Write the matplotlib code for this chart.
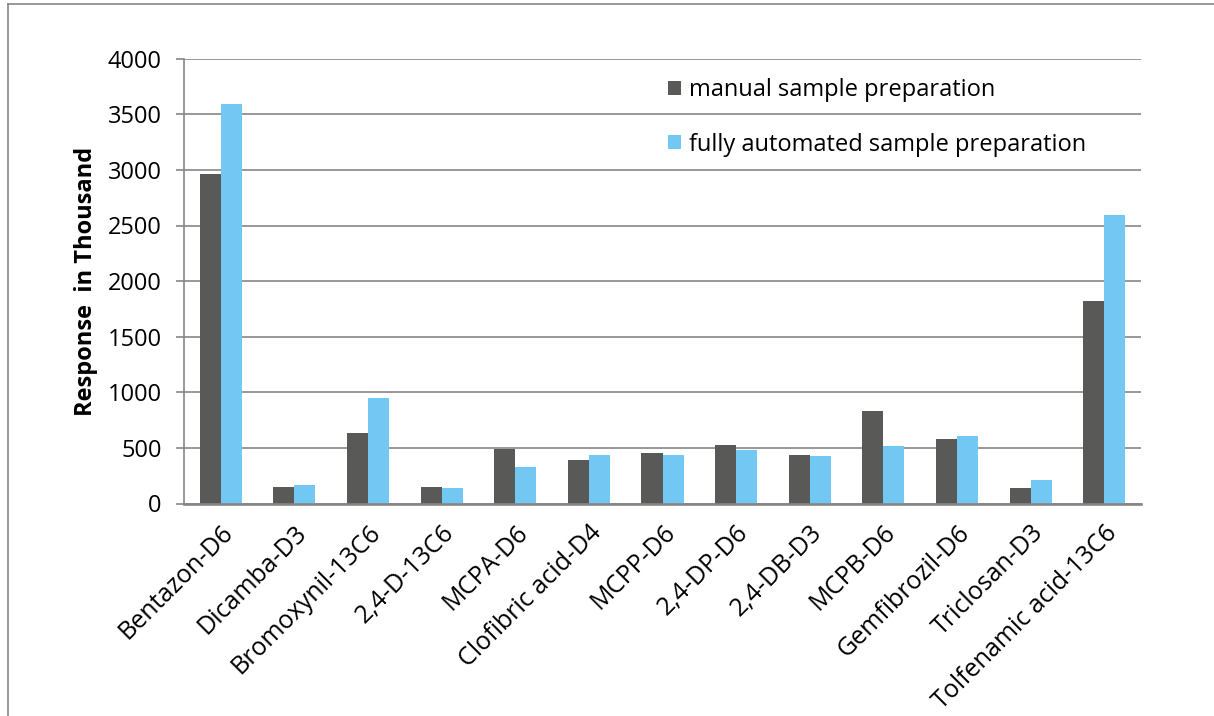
import matplotlib
matplotlib.use("Agg")
import matplotlib.pyplot as plt
from matplotlib.patches import Patch
from matplotlib.lines import Line2D
import numpy as np

categories = ["Bentazon-D6", "Dicamba-D3", "Bromoxynil-13C6", "2,4-D-13C6", "MCPA-D6",
              "Clofibric acid-D4", "MCPP-D6", "2,4-DP-D6", "2,4-DB-D3", "MCPB-D6",
              "Gemfibrozil-D6", "Triclosan-D3", "Tolfenamic acid-13C6"]
manual = [2966, 148, 637, 146, 490, 394, 455, 522, 439, 829, 577, 135, 1821]
automated = [3593, 169, 946, 139, 331, 433, 440, 477, 423, 516, 604, 207, 2594]
series_names = ["manual sample preparation", "fully automated sample preparation"]
yticks = [0, 500, 1000, 1500, 2000, 2500, 3000, 3500, 4000]

plt.rcParams["font.family"] = ["Open Sans", "DejaVu Sans"]

W, H = 1214, 716
fig = plt.figure(figsize=(W / 100, H / 100), dpi=100)
ax = fig.add_axes([184 / W, 1 - 503.5 / H, (1141 - 184) / W, (503.5 - 58.7) / H])

c_manual = "#595957"
c_auto = "#72C8F2"
grid_c = "#868686"

x = np.arange(len(categories))
bw = 0.2857
ax.bar(x - bw / 2, manual, bw, color=c_manual, zorder=3)
ax.bar(x + bw / 2, automated, bw, color=c_auto, zorder=3)

ax.set_xlim(-0.5, len(categories) - 0.5)
ax.set_ylim(0, 4000)
ax.set_yticks(yticks)
ax.set_yticklabels([str(v) for v in yticks], fontsize=17)
ax.yaxis.grid(True, color=grid_c, linewidth=1.2, zorder=0)
ax.set_axisbelow(True)

for s in ["top", "right"]:
    ax.spines[s].set_visible(False)
ax.spines["left"].set_color(grid_c)
ax.spines["left"].set_linewidth(1.2)
ax.spines["bottom"].set_color(grid_c)
ax.spines["bottom"].set_linewidth(1.9)
ax.spines["bottom"].set_zorder(4)

ax.tick_params(axis="y", length=6, width=1.2, color=grid_c, pad=10)
ax.tick_params(axis="x", length=0, pad=12)
ax.set_xticks(x)
ax.set_xticklabels(categories, fontsize=18, rotation=45, ha="right",
                   va="top", rotation_mode="anchor")

ax.set_ylabel("Response  in Thousand", fontsize=17, fontweight="bold")
ax.yaxis.set_label_coords(-0.0895, 0.5)

handles = [Patch(facecolor=c_manual), Patch(facecolor=c_auto)]
leg = ax.legend(handles, series_names, loc="upper left", frameon=False,
                bbox_to_anchor=((668 - 184) / (1141 - 184), 1 - (78 - 58.7) / (503.5 - 58.7)),
                fontsize=17, handlelength=0.55, handleheight=0.55,
                handletextpad=0.35, labelspacing=1.3, borderpad=0, borderaxespad=0)

# outer frame lines
fig.add_artist(Line2D([7.5 / W, 7.5 / W], [0, 1 - 3.5 / H], color=grid_c, linewidth=1.2,
                      transform=fig.transFigure))
fig.add_artist(Line2D([7.5 / W, 1], [1 - 3.5 / H, 1 - 3.5 / H], color=grid_c, linewidth=1.2,
                      transform=fig.transFigure))

fig.savefig("out.png", dpi=100)
